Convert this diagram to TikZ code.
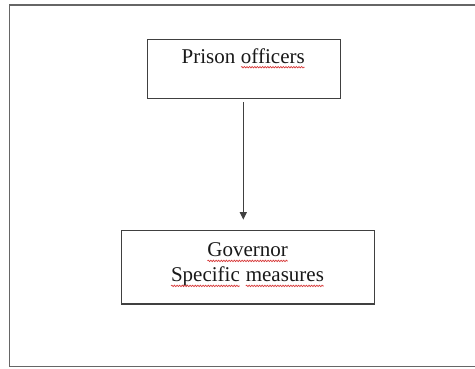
\documentclass[tikz,border=0pt]{standalone}
\usepackage{fontspec}
\setmainfont{Liberation Serif}
\usetikzlibrary{arrows.meta,decorations.pathmorphing}
\definecolor{framegray}{HTML}{666666}
\definecolor{boxgray}{HTML}{404040}
\definecolor{spellred}{HTML}{D83A3A}
\tikzset{
  frameline/.style={draw=framegray, line width=1.6pt},
  boxnode/.style={draw=boxgray, line width=1.4pt, inner sep=0pt, fill=none},
  txt/.style={font=\fontsize{21}{25}\selectfont, inner sep=0pt, anchor=base, text=black!90},
  sqline/.style={draw=spellred, line width=0.7pt, decorate,
    decoration={snake, amplitude=0.7pt, segment length=2.6pt}},
  flowarrow/.style={draw=black!75, line width=1pt, -{Triangle[length=7.5pt,width=7pt]}}
}
\newcommand\squig[1]{\tikz[baseline=(sqw.base)]{\node[inner sep=0pt,outer sep=0pt,anchor=base,draw=none,minimum width=0pt,minimum height=0pt](sqw){#1};\draw[sqline]([yshift=-4.2pt]sqw.base west)--([yshift=-4.2pt]sqw.base east);}}
\begin{document}
\begin{tikzpicture}[x=1pt,y=-1pt]
\useasboundingbox (0,0) rectangle (475,368);
\fill[white] (0,0) rectangle (475,368);
% outer frame
\draw[frameline] (476,5) -- (9.5,5) -- (9.5,366.5) -- (476,366.5);
% top box
\node[boxnode, minimum width=192.6pt, minimum height=59.4pt] (po) at (244,69) {};
\node[txt] (pot) at (243.4,63) {Prison \squig{officers}};
% bottom box
\node[boxnode, minimum width=253pt, minimum height=73.7pt] (gm) at (248.2,267.2) {};
\node[txt] (gt1) at (247.7,256.7) {\squig{Governor}};
\node[txt] (gt2) at (247.5,281.7) {\squig{Specific} \squig{measures}};
% arrow
\draw[flowarrow, shorten <=3pt, shorten >=10pt] ([xshift=-0.7pt]po.south) -- ([xshift=-0.7pt]po.south |- gm.north);
\end{tikzpicture}
\end{document}
